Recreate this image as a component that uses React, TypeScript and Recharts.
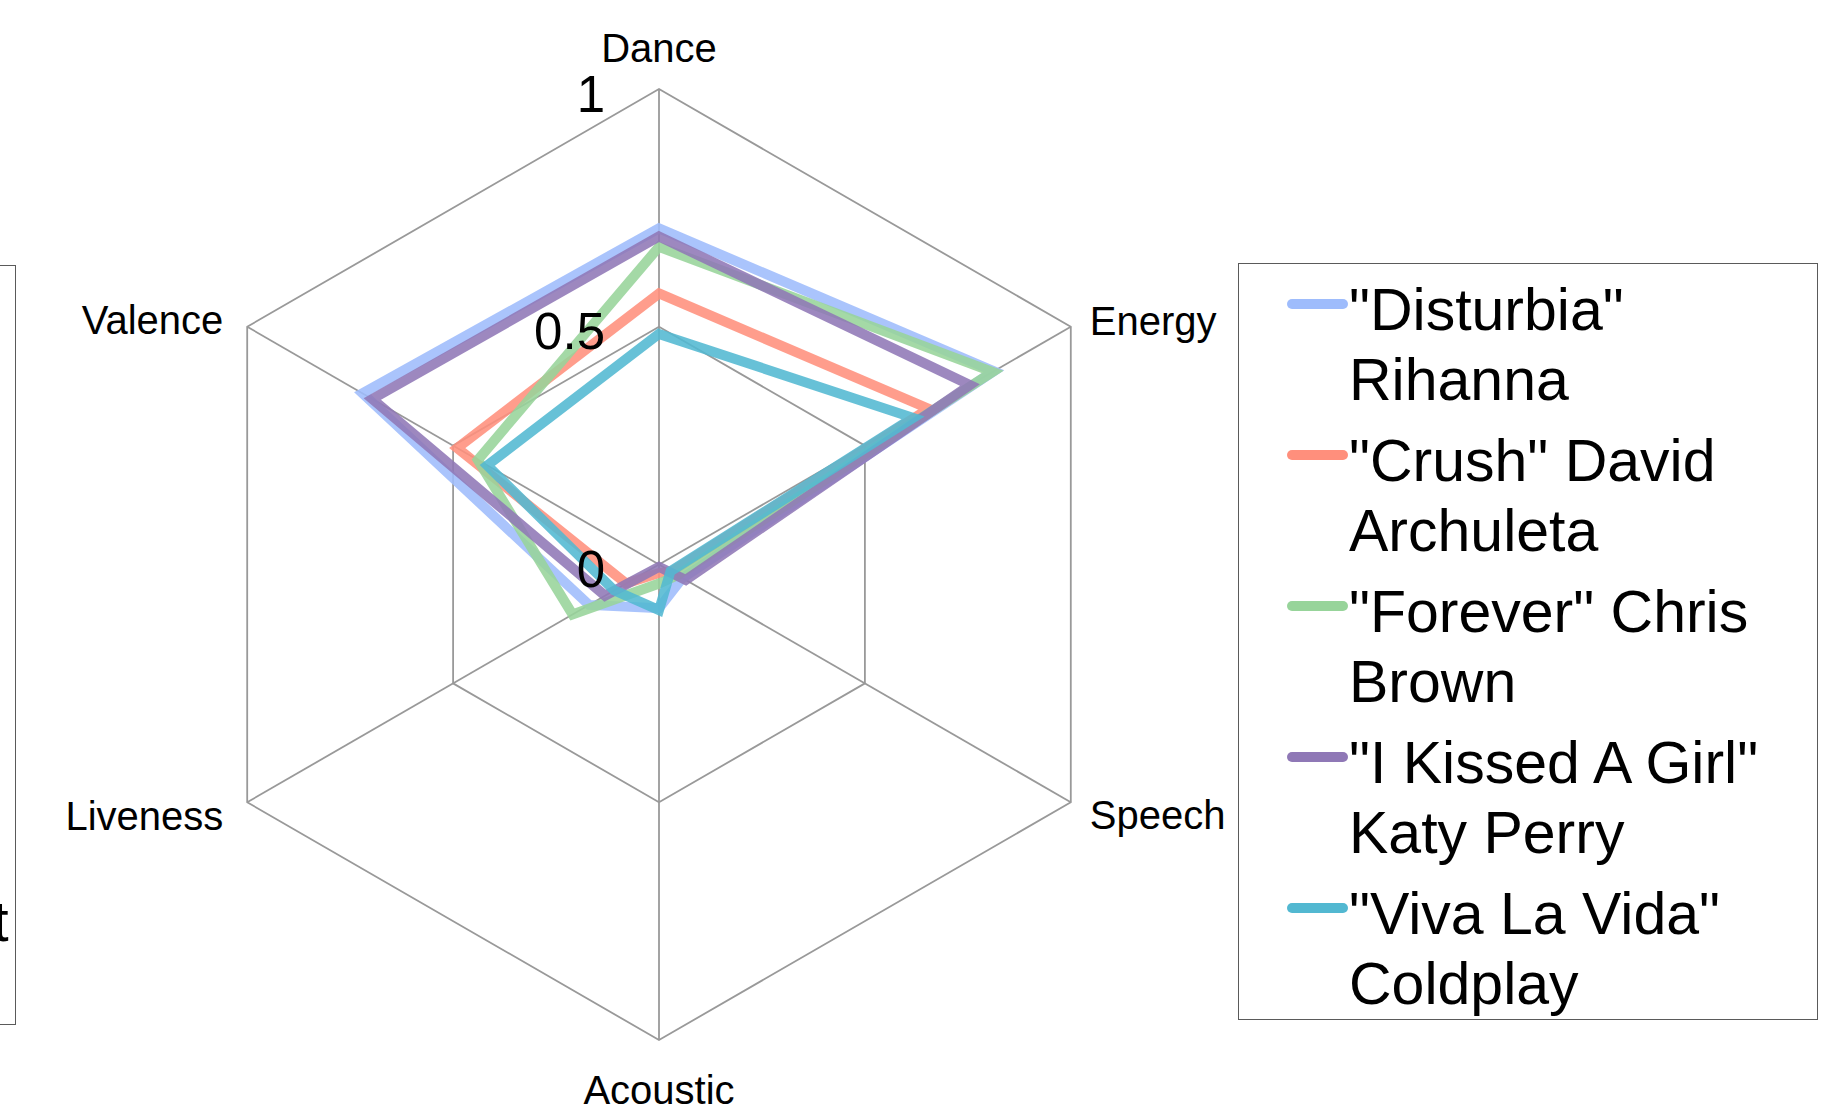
import { Legend, PolarAngleAxis, PolarGrid, PolarRadiusAxis, Radar, RadarChart } from "recharts";

const FONT = '"Liberation Sans", Arial, sans-serif';

const categories = ["Dance", "Energy", "Speech", "Acoustic", "Liveness", "Valence"];

const disturbia = [0.707, 0.813, 0.057, 0.092, 0.17, 0.72];
const crush = [0.57, 0.655, 0.03, 0.018, 0.08, 0.49];
const forever = [0.668, 0.81, 0.045, 0.04, 0.21, 0.44];
const kissedGirl = [0.69, 0.755, 0.065, 0.005, 0.131, 0.696];
const vivaLaVida = [0.485, 0.617, 0.028, 0.096, 0.109, 0.417];

const radiusTicks = [0, 0.5, 1];

const songNames = [
  '"Disturbia" Rihanna',
  '"Crush" David Archuleta',
  '"Forever" Chris Brown',
  '"I Kissed A Girl" Katy Perry',
  '"Viva La Vida" Coldplay',
];
const songColors = ["#9ebcfc", "#ff8f7c", "#97d49a", "#8f78b6", "#52b8d1"];
const songValues = [disturbia, crush, forever, kissedGirl, vivaLaVida];

const data = categories.map((axis, i) => {
  const row: Record<string, string | number> = { axis };
  songValues.forEach((vals, s) => {
    row["s" + s] = vals[i];
  });
  return row;
});

function AngleTick(props: any) {
  const { x, y, payload, textAnchor } = props;
  let dx = 0;
  let dy = 0;
  if (textAnchor === "middle") {
    dy = y < props.cy ? -33 : 42;
  } else if (textAnchor === "start") {
    dx = 12;
    dy = y < props.cy ? -2 : 9;
  } else {
    dx = -17;
    dy = y < props.cy ? -3 : 10;
  }
  return (
    <text
      x={x + dx}
      y={y + dy}
      textAnchor={textAnchor}
      dominantBaseline="central"
      fontFamily={FONT}
      fontSize={40}
      fill="#000"
    >
      {payload.value}
    </text>
  );
}

function RadiusTick(props: any) {
  const { x, y, payload } = props;
  return (
    <text
      x={x - 54}
      y={y + 5}
      textAnchor="end"
      dominantBaseline="central"
      fontFamily={FONT}
      fontSize={51}
      fill="#000"
    >
      {payload.value}
    </text>
  );
}

function SongLegend(props: any) {
  const payload = [...(props.payload ?? [])].sort(
    (a: any, b: any) => songNames.indexOf(a.value) - songNames.indexOf(b.value)
  );
  return (
    <div
      style={{
        boxSizing: "border-box",
        width: 580,
        height: 757,
        border: "1.5px solid #5a5a5a",
        paddingTop: 10.5,
        fontFamily: FONT,
        fontSize: 59,
        lineHeight: "70px",
        color: "#000",
        background: "#fff",
      }}
    >
      {payload.map((item: any) => (
        <div key={item.value} style={{ display: "flex", alignItems: "flex-start", marginBottom: 11 }}>
          <svg width={110} height={70} style={{ flex: "none" }}>
            <line x1={53} x2={104} y1={29} y2={29} stroke={item.color} strokeWidth={10} strokeLinecap="round" />
          </svg>
          <div style={{ width: 445 }}>{item.value}</div>
        </div>
      ))}
    </div>
  );
}

export default function App() {
  return (
    <div
      style={{
        position: "absolute",
        left: 0,
        top: 0,
        width: 1826,
        height: 1115,
        overflow: "hidden",
        background: "#fff",
        fontFamily: FONT,
      }}
    >
      {/* edge of a neighbouring legend box, clipped by the frame */}
      <div
        style={{
          position: "absolute",
          left: -400,
          top: 265,
          width: 416,
          height: 760,
          boxSizing: "border-box",
          border: "1.5px solid #5a5a5a",
        }}
      >
        <div style={{ position: "absolute", right: 6.5, top: 620, fontSize: 58, lineHeight: "70px" }}>t</div>
      </div>

      <RadarChart
        width={1826}
        height={1115}
        data={data}
        cx={659}
        cy={564.5}
        outerRadius={475.5}
        margin={{ top: 0, right: 0, bottom: 0, left: 0 }}
      >
        <PolarGrid gridType="polygon" stroke="#999999" strokeWidth={1.8} />
        <PolarAngleAxis dataKey="axis" tick={AngleTick} tickLine={false} axisLine={false} />
        {songNames.map((name, s) => (
          <Radar
            key={name}
            name={name}
            dataKey={"s" + s}
            stroke={songColors[s]}
            strokeWidth={10}
            strokeOpacity={0.88}
            fill="none"
            fillOpacity={0}
            dot={false}
            isAnimationActive={false}
          />
        ))}
        <PolarRadiusAxis
          angle={90}
          type="number"
          domain={[0, 1]}
          ticks={radiusTicks as any}
          tickCount={3}
          axisLine={false}
          tick={RadiusTick}
        />
        <Legend
          layout="vertical"
          align="right"
          verticalAlign="middle"
          itemSorter={null as any}
          content={SongLegend}
          wrapperStyle={{ left: 1238, top: 263, width: 580, height: 757 }}
        />
      </RadarChart>
    </div>
  );
}
